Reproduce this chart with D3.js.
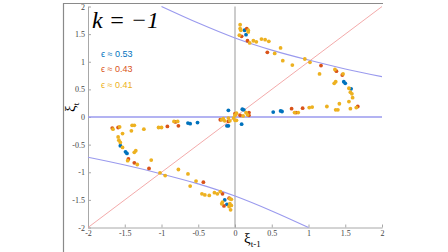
<!DOCTYPE html>
<html>
<head>
<meta charset="utf-8">
<script src="https://cdn.jsdelivr.net/npm/d3@7"></script>
<style>
  body { margin: 0; background: #fff; }
  svg { display: block; }
  .serif { font-family: "Liberation Serif", "Times New Roman", serif; }
</style>
</head>
<body>
<div id="chart"></div>
<script>
// data
const tickValues = [-2, -1.5, -1, -0.5, 0, 0.5, 1, 1.5, 2]
const tickLabels = ["-2", "-1.5", "-1", "-0.5", "0", "0.5", "1", "1.5", "2"]

const seriesLabels = ["ϵ ≈ 0.53", "ϵ ≈ 0.43", "ϵ ≈ 0.41"]
const seriesColors = ["#0072BD", "#D95319", "#EDB120"]

// eps = 0.53
const blueX = [0.13, 0.15, 1.48, 1.50, 1.58, 0.52, 0.62, 0.64, -0.09, 0.10, 0.12, -0.09, -0.11, 0.09, -0.51, -0.64, -0.61, -1.56, -1.49, -1.47, -0.14, -0.11]
const blueY = [1.57, 1.49, 0.64, 0.61, 0.51, 0.09, 0.11, 0.10, 0.12, 0.14, 0.13, -0.16, -0.16, -0.13, -0.10, -0.11, -0.12, -0.52, -0.63, -0.66, -1.50, -1.58]

// eps = 0.43
const redX = [0.16, 0.09, 0.17, 0.44, 1.17, 1.38, 1.46, 1.67, 0.92, 0.77, 0.83, -0.20, -0.09, 0.00, 0.07, 0.19, 0.19, -1.67, -1.59, -0.92, -0.77, -0.81, -1.45, -1.37, -1.17, -0.43, -0.17, -0.08, -0.15]
const redY = [1.60, 1.46, 1.38, 1.17, 0.93, 0.83, 0.76, 0.19, 0.16, 0.15, 0.08, -0.05, -0.08, 0.06, 0.03, 0.08, 0.03, -0.20, -0.19, -0.17, -0.16, -0.09, -0.76, -0.83, -0.93, -1.18, -1.39, -1.47, -1.61]

// eps = 0.41
const yellowX = [0.07, 0.07, 0.08, 0.18, 0.18, 0.06, 0.20, 0.25, 0.29, 0.36, 0.41, 0.46, 0.54, 0.62, 0.65, 0.78, 0.95, 1.02, 1.15, 1.36, 1.47, 1.37, 1.35, 1.55, 1.57, 1.59, 1.60, 1.55, 1.42, 1.65, 1.57, 1.40, 1.37, 1.25, 1.05, 1.01, 0.86, 0.81,
    -0.18, -0.16, -0.14, -0.09, -0.07, -0.02, 0.00, 0.02, 0.00, 0.02, 0.11, 0.15, 0.17,
    -1.66, -1.57, -1.40, -1.37, -1.41, -1.24, -1.04, -1.00, -0.83, -0.78, -1.53, -1.59, -1.58, -1.56, -1.53, -1.35, -1.37, -1.46, -1.33, -1.14, -1.02, -0.95, -0.77, -0.64, -0.53, -0.61, -0.45, -0.41, -0.35, -0.28, -0.24, -0.20, -0.07, -0.05, -0.17, -0.18, -0.07, -0.05, -0.08, -0.06]
const yellowY = [1.67, 1.60, 1.57, 1.57, 1.54, 1.48, 1.34, 1.38, 1.36, 1.41, 1.40, 1.37, 1.15, 1.25, 1.02, 0.94, 1.05, 0.99, 0.78, 0.86, 0.78, 0.64, 0.61, 0.52, 0.45, 0.42, 0.35, 0.28, 0.24, 0.17, 0.15, 0.13, 0.13, 0.19, 0.18, 0.17, 0.08, 0.08,
    -0.05, -0.03, -0.07, -0.02, -0.07, -0.02, 0.03, 0.07, -0.06, -0.06, 0.02, 0.08, 0.04,
    -0.22, -0.18, -0.15, -0.15, -0.25, -0.22, -0.19, -0.19, -0.08, -0.08, -0.30, -0.36, -0.42, -0.46, -0.55, -0.61, -0.64, -0.79, -0.86, -0.78, -1.01, -1.06, -0.95, -1.03, -1.16, -1.25, -1.39, -1.41, -1.42, -1.37, -1.39, -1.35, -1.48, -1.49, -1.54, -1.57, -1.57, -1.60, -1.62, -1.68]

// reference curves
const upperCurveX = [-1, -0.5, 0, 0.5, 1, 1.5, 2]
const upperCurveY = [2, 1.70, 1.43, 1.21, 1.03, 0.87, 0.73]
const lowerCurveX = [-2, -1.5, -1, -0.5, 0, 0.5, 1]
const lowerCurveY = [-0.73, -0.87, -1.03, -1.21, -1.43, -1.70, -2]

const width = 448
const height = 252

const xScale = d3.scaleLinear()
    .domain([-2, 2])
    .range([88, 382])

const yScale = d3.scaleLinear()
    .domain([-2, 2])
    .range([227.5, 6.5])

const svg = d3.select("#chart")
    .append("svg")
    .attr("width", width)
    .attr("height", height)

// outer frame (left + top only)
svg.append("path")
    .attr("d", "M63.5,252 V3.5 H383")
    .attr("fill", "none")
    .attr("stroke", "#8a8a8a")
    .attr("stroke-width", 1.2)

// axes
svg.append("g")
    .attr("transform", `translate(0,${yScale(-2)})`)
    .call(d3.axisBottom(xScale).tickValues(tickValues).tickFormat((d, i) => tickLabels[i]).tickSizeInner(-3).tickSizeOuter(0).tickPadding(3))
svg.append("g")
    .attr("transform", `translate(${xScale(-2)},0)`)
    .call(d3.axisLeft(yScale).tickValues(tickValues).tickFormat((d, i) => tickLabels[i]).tickSizeInner(-3).tickSizeOuter(0).tickPadding(3))

svg.selectAll(".domain").attr("stroke", "#a8a8a8")
svg.selectAll(".tick line").attr("stroke", "#a8a8a8")
svg.selectAll(".tick text")
    .attr("class", "serif")
    .attr("font-family", null)
    .attr("fill", "#444")
    .style("font-size", "8px")

// vertical line at 0
svg.append("line")
    .attr("x1", xScale(0)).attr("x2", xScale(0))
    .attr("y1", yScale(2)).attr("y2", yScale(-2))
    .attr("stroke", "#999")
    .attr("stroke-width", 1)

// diagonal y = x
svg.append("line")
    .attr("x1", xScale(-2)).attr("y1", yScale(-2))
    .attr("x2", xScale(2)).attr("y2", yScale(2))
    .attr("stroke", "#f2a0a0")
    .attr("stroke-width", 0.9)

// horizontal line at 0
svg.append("line")
    .attr("x1", xScale(-2)).attr("x2", xScale(2))
    .attr("y1", yScale(0)).attr("y2", yScale(0))
    .attr("stroke", "#9a9aee")
    .attr("stroke-width", 1.3)

const curveLine = d3.line()
    .x(d => xScale(d[0]))
    .y(d => yScale(d[1]))
    .curve(d3.curveMonotoneX)

svg.append("path")
    .datum(upperCurveX.map((x, i) => [x, upperCurveY[i]]))
    .attr("d", curveLine)
    .attr("fill", "none")
    .attr("stroke", "#9a9aee")
    .attr("stroke-width", 1.1)

svg.append("path")
    .datum(lowerCurveX.map((x, i) => [x, lowerCurveY[i]]))
    .attr("d", curveLine)
    .attr("fill", "none")
    .attr("stroke", "#9a9aee")
    .attr("stroke-width", 1.1)

// scatter points, blue first then red then yellow
const series = [[blueX, blueY], [redX, redY], [yellowX, yellowY]]
series.forEach((s, k) => {
    svg.append("g")
        .selectAll("circle")
        .data(s[0].map((x, i) => [x, s[1][i]]))
        .join("circle")
        .attr("cx", d => xScale(d[0]))
        .attr("cy", d => yScale(d[1]))
        .attr("r", 1.9)
        .attr("fill", seriesColors[k])
})

// title
svg.append("text")
    .attr("class", "serif")
    .attr("x", 92)
    .attr("y", 28)
    .style("font-size", "24px")
    .style("font-style", "italic")
    .text("k = −1")

// legend
svg.selectAll("text.legend")
    .data(seriesLabels)
    .join("text")
    .attr("class", "legend")
    .attr("x", 101)
    .attr("y", (d, i) => 56.5 + i * 15.5)
    .attr("fill", (d, i) => seriesColors[i])
    .style("font-family", "'Liberation Sans', Arial, sans-serif")
    .style("font-size", "9px")
    .text(d => d)

// axis labels
const xLabel = svg.append("text")
    .attr("class", "serif")
    .attr("x", 244)
    .attr("y", 243)
    .style("font-size", "15px")
xLabel.append("tspan").text("ξ")
xLabel.append("tspan").attr("dy", 4).style("font-size", "9px").text("t-1")

const yLabel = svg.append("text")
    .attr("class", "serif")
    .attr("transform", "translate(75,112) rotate(-90)")
    .style("font-size", "15px")
yLabel.append("tspan").text("ξ")
yLabel.append("tspan").attr("dy", 4).style("font-size", "9px").text("t")
</script>
</body>
</html>
